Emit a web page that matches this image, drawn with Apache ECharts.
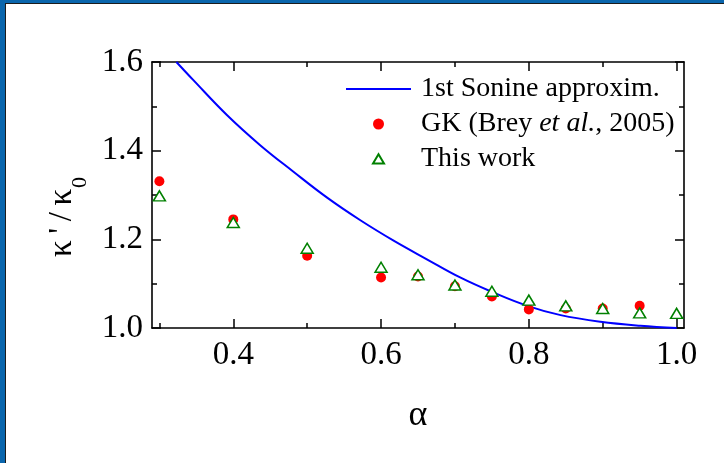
<!DOCTYPE html>
<html>
<head>
<meta charset="utf-8">
<title>Thermal conductivity ratio vs restitution coefficient</title>
<script src="https://cdn.jsdelivr.net/npm/echarts@6/dist/echarts.min.js"></script>
<style>
  html, body { margin: 0; padding: 0; background: #ffffff; }
  #chart { position: absolute; left: 0; top: 0; width: 724px; height: 463px; }
  .edge { position: absolute; pointer-events: none; }
</style>
</head>
<body>
<div id="chart"></div>
<!-- frame: blue band with a thin dark rule along the left and top edges -->
<div class="edge" style="left:0;top:0;width:5px;height:463px;background:#0a66ad;"></div>
<div class="edge" style="left:0;top:0;width:724px;height:3px;background:#0a66ad;"></div>
<div class="edge" style="left:5px;top:3px;width:1px;height:460px;background:#1c1c1c;"></div>
<div class="edge" style="left:5px;top:3px;width:719px;height:1px;background:#1c1c1c;"></div>
<script>
// 1st Sonine approximation curve
const sonineAlpha = [0.323, 0.346, 0.391, 0.436, 0.481, 0.527, 0.572, 0.617, 0.662, 0.707, 0.752, 0.798, 0.843, 0.897, 0.951, 1.0];
const sonineRatio = [1.600, 1.559, 1.481, 1.413, 1.353, 1.294, 1.243, 1.197, 1.155, 1.114, 1.080, 1.050, 1.029, 1.014, 1.005, 1.000];

// Green-Kubo results (Brey et al., 2005)
const gkAlpha = [0.3, 0.4, 0.5, 0.6, 0.65, 0.7, 0.75, 0.8, 0.85, 0.9, 0.95];
const gkRatio = [1.331, 1.245, 1.163, 1.114, 1.116, 1.094, 1.071, 1.042, 1.044, 1.044, 1.050];

// present simulation results
const workAlpha = [0.3, 0.4, 0.5, 0.6, 0.65, 0.7, 0.75, 0.8, 0.85, 0.9, 0.95, 1.0];
const workRatio = [1.298, 1.238, 1.180, 1.137, 1.120, 1.097, 1.083, 1.063, 1.050, 1.044, 1.034, 1.033];

// axis ticks
const xMajorTicks = [0.4, 0.6, 0.8, 1.0];
const xMinorTicks = [0.3, 0.5, 0.7, 0.9];
const seriesNames = ['1st Sonine approxim.', 'GK (Brey et al., 2005)', 'This work'];

const zip = (xs, ys) => xs.map((x, i) => [x, ys[i]]);

const SERIF = '"Liberation Serif", "Times New Roman", serif';
const INK = '#000000';

// legend glyphs; the leading moves pin each icon's box to itemWidth x itemHeight
const LINE_ICON = 'path://M0,0 M65,11 M0,4.5 L65,4.5 L65,6.5 L0,6.5 Z';
const TRIANGLE_ICON = 'path://M0,0 M65,11 M27,10 L32.5,0.8 L38,10 Z';

function xAxisDef(position, ticks, tickLen, showLine, showLabels) {
  return {
    type: 'value',
    position: position,
    min: 0.29,
    max: 1.01,
    axisLine: { show: showLine, onZero: false, lineStyle: { color: INK, width: 1.6 } },
    axisTick: { show: true, inside: true, length: tickLen, customValues: ticks, lineStyle: { color: INK, width: 1.5 } },
    axisLabel: showLabels ? {
      show: true, customValues: ticks, margin: 11,
      fontFamily: SERIF, fontSize: 33, color: INK,
      formatter: v => v.toFixed(1)
    } : { show: false },
    splitLine: { show: false }
  };
}

function yAxisDef(position, showLabels) {
  return {
    type: 'value',
    position: position,
    min: 1.0,
    max: 1.6,
    interval: 0.2,
    axisLine: { show: true, onZero: false, lineStyle: { color: INK, width: 1.6 } },
    axisTick: { show: true, inside: true, length: 9, lineStyle: { color: INK, width: 1.5 } },
    minorTick: { show: true, splitNumber: 2, length: 5, lineStyle: { color: INK, width: 1.5 } },
    axisLabel: showLabels ? {
      show: true, margin: 9,
      fontFamily: SERIF, fontSize: 33, color: INK,
      formatter: v => v.toFixed(1)
    } : { show: false },
    splitLine: { show: false },
    minorSplitLine: { show: false }
  };
}

const chart = echarts.init(document.getElementById('chart'), null, { renderer: 'canvas' });

const xBottom = xAxisDef('bottom', xMajorTicks, 9, true, true);
xBottom.name = 'α';
xBottom.nameLocation = 'middle';
xBottom.nameGap = 70;
xBottom.nameTextStyle = { fontFamily: SERIF, fontSize: 36, color: INK };

const yLeft = yAxisDef('left', true);
yLeft.name = "{k|κ\u2009'\u2009/\u2009κ}{s|0}";
yLeft.nameLocation = 'middle';
yLeft.nameRotate = 90;
yLeft.nameGap = 50;
yLeft.nameTextStyle = {
  fontFamily: SERIF, color: INK,
  padding: [0, 44, 0, 0],
  rich: {
    k: { fontFamily: SERIF, fontSize: 33, color: INK },
    s: { fontFamily: SERIF, fontSize: 22, color: INK, padding: [36, 0, 0, 1] }
  }
};

chart.setOption({
  animation: false,
  backgroundColor: '#ffffff',
  grid: { left: 152, top: 62, width: 532, height: 266 },
  xAxis: [
    xBottom,
    xAxisDef('bottom', xMinorTicks, 5, false, false),
    xAxisDef('top', xMajorTicks, 9, true, false),
    xAxisDef('top', xMinorTicks, 5, false, false)
  ],
  yAxis: [
    yLeft,
    yAxisDef('right', false)
  ],
  legend: {
    orient: 'vertical',
    left: 345,
    top: 75,
    padding: 0,
    itemWidth: 65,
    itemHeight: 11,
    itemGap: 7,
    data: [
      { name: seriesNames[0], icon: LINE_ICON, itemStyle: { color: '#0000ff', borderWidth: 0 } },
      { name: seriesNames[1] },
      { name: seriesNames[2], icon: TRIANGLE_ICON }
    ],
    formatter: name => name === seriesNames[1] ? 'GK (Brey {i|et al.}, 2005)' : name,
    textStyle: {
      fontFamily: SERIF, fontSize: 28, color: INK, lineHeight: 28,
      padding: [0, 0, 0, 5],
      rich: {
        i: { fontFamily: SERIF, fontSize: 28, fontStyle: 'italic', color: INK, lineHeight: 28 }
      }
    }
  },
  series: [
    {
      name: seriesNames[0],
      type: 'line',
      data: zip(sonineAlpha, sonineRatio),
      smooth: 0.4,
      showSymbol: false,
      symbol: 'none',
      clip: true,
      lineStyle: { color: '#0000ff', width: 2 },
      itemStyle: { color: '#0000ff' },
      z: 2
    },
    {
      name: seriesNames[1],
      type: 'scatter',
      data: zip(gkAlpha, gkRatio),
      symbol: 'circle',
      symbolSize: 10,
      itemStyle: { color: '#ff0000', opacity: 1 },
      z: 3
    },
    {
      name: seriesNames[2],
      type: 'scatter',
      data: zip(workAlpha, workRatio),
      symbol: 'triangle',
      symbolSize: [12, 10],
      itemStyle: { color: '#ffffff', borderColor: '#008000', borderWidth: 1.5, opacity: 1 },
      z: 4
    }
  ]
});
</script>
</body>
</html>
